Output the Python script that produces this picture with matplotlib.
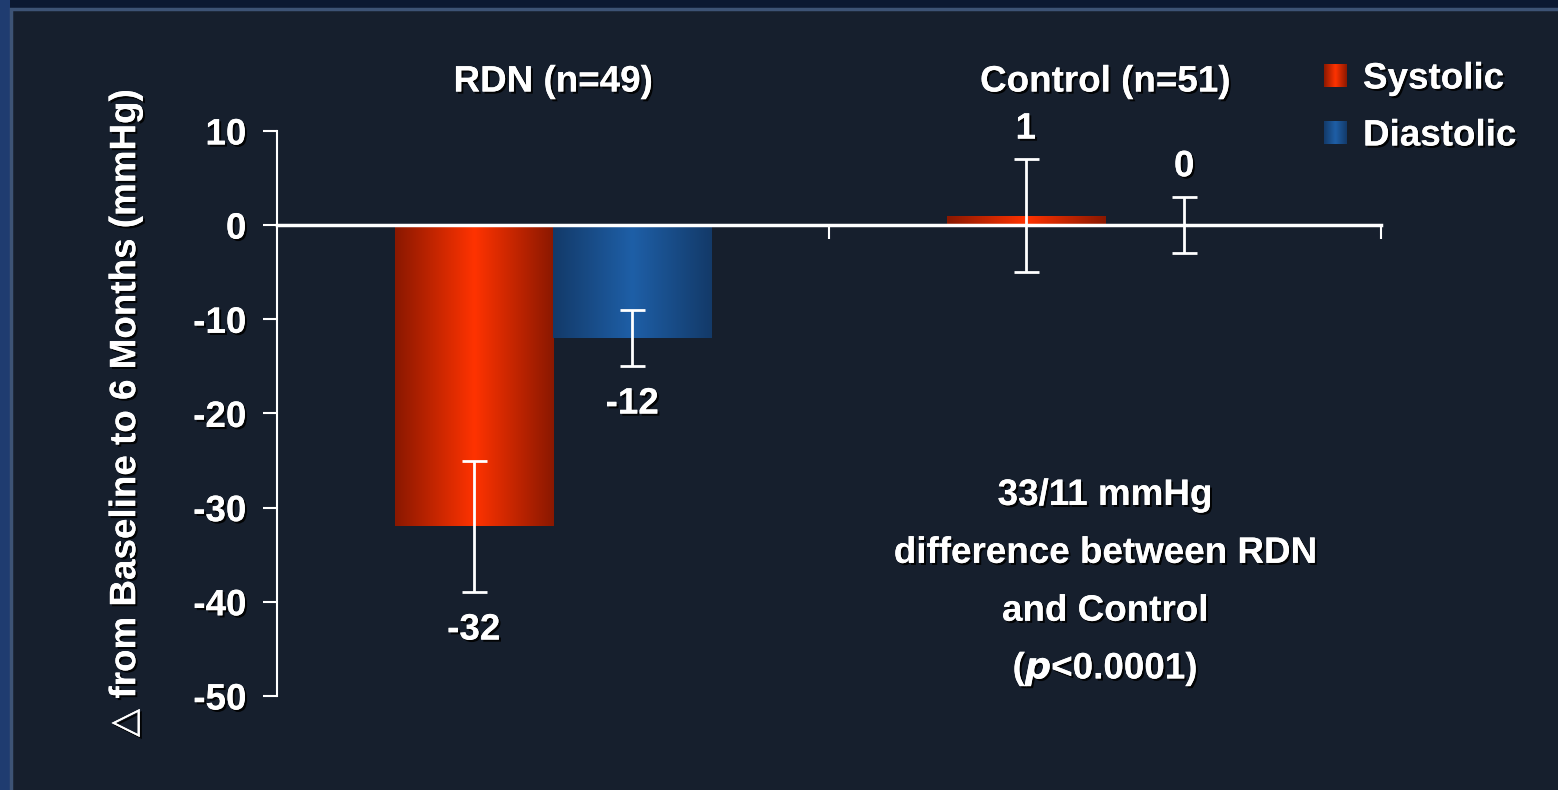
import numpy as np
import matplotlib.pyplot as plt
import matplotlib.patheffects as pe
from matplotlib.patches import Rectangle
from matplotlib.colors import LinearSegmentedColormap

plt.rcParams['font.family'] = ['Liberation Sans', 'DejaVu Sans']
plt.rcParams['font.weight'] = 'bold'
plt.rcParams['axes.unicode_minus'] = False

groups = ['RDN (n=49)', 'Control (n=51)']
series = ['Systolic', 'Diastolic']
systolic = [-32, 1]
diastolic = [-12, 0]
systolic_err = [7, 6]
diastolic_err = [3, 3]
systolic_lbl = ['-32', '1']
diastolic_lbl = ['-12', '0']
note = ['33/11 mmHg', 'difference between RDN', 'and Control', r'($\bf{\it{p}}$<0.0001)']

bg = '#161f2d'
fs = 26.5
shadow = [pe.withSimplePatchShadow(offset=(1.5, -1.5), shadow_rgbFace='black', alpha=0.9), pe.Normal()]

fig = plt.figure(figsize=(15.58, 7.90), dpi=100)
fig.patch.set_facecolor('#0c1932')
# slide frame
fig.patches.append(Rectangle((11 / 1558, -0.05), 1.1, (790 - 9) / 790 + 0.05, transform=fig.transFigure,
                             facecolor=bg, edgecolor='#3d5375', linewidth=2.5, zorder=-1))
fig.patches.append(Rectangle((0, -0.05), 10 / 1558, 1.1, transform=fig.transFigure,
                             facecolor='#1f3c70', edgecolor='none', zorder=-2))

ax = fig.add_axes([277 / 1558, 94 / 790, 1104 / 1558, 565 / 790])
ax.set_facecolor('none')
ax.set_xlim(0, 2)
ax.set_ylim(-50, 10)

def grad_cmap(edge, center):
    return LinearSegmentedColormap.from_list('g', [edge, center, edge])

red_cmap = grad_cmap('#8a1800', '#ff3300')
blue_cmap = grad_cmap('#133a69', '#1e5fa7')

x = np.arange(len(groups)) + 0.5
w = 0.287
bars_s = ax.bar(x - w / 2, systolic, w, facecolor='none', edgecolor='none')
bars_d = ax.bar(x + w / 2, diastolic, w, facecolor='none', edgecolor='none')
grad = np.linspace(0, 1, 256).reshape(1, -1)
for bars, cm in [(bars_s, red_cmap), (bars_d, blue_cmap)]:
    for b in bars:
        if b.get_height() == 0:
            continue
        x0, y0 = b.get_x(), b.get_y()
        x1, y1 = x0 + b.get_width(), y0 + b.get_height()
        im = ax.imshow(grad, cmap=cm, extent=[x0, x1, min(y0, y1), max(y0, y1)],
                       aspect='auto', interpolation='bicubic', zorder=1)
        im.set_clip_path(b)

ekw = dict(fmt='none', ecolor='white', elinewidth=2, capsize=9, capthick=2, zorder=3)
ax.errorbar(x - w / 2, systolic, yerr=systolic_err, **ekw)
ax.errorbar(x + w / 2, diastolic, yerr=diastolic_err, **ekw)

tkw = dict(ha='center', va='center', color='white', fontsize=fs, fontweight='bold',
           path_effects=shadow, clip_on=False)
for i in range(len(groups)):
    for xv, v, e, lbl in [(x[i] - w / 2, systolic[i], systolic_err[i], systolic_lbl[i]),
                          (x[i] + w / 2, diastolic[i], diastolic_err[i], diastolic_lbl[i])]:
        if v < 0:
            ax.text(xv, v - e - 4.0, lbl, **tkw)
        else:
            ax.text(xv, v + e + 3.2, lbl, **tkw)
    ax.text(x[i], 15.2, groups[i], **tkw)

for k, line in enumerate(note):
    ax.text(1.5, -28.7 - k * 6.15, line, **tkw)

# axes styling
for s in ['top', 'right']:
    ax.spines[s].set_visible(False)
ax.spines['left'].set_color('white')
ax.spines['left'].set_linewidth(1.5)
ax.spines['bottom'].set_position(('data', 0))
ax.spines['bottom'].set_color('white')
ax.spines['bottom'].set_linewidth(2.5)
ax.spines['bottom'].set_zorder(4)
ax.set_yticks(np.arange(-50, 11, 10))
ax.set_xticks([1, 2])
ax.set_xticklabels([])
ax.tick_params(axis='y', colors='white', length=10, width=1.5, labelsize=fs, pad=12)
ax.tick_params(axis='x', colors='white', length=10, width=1.5)
for t in ax.get_yticklabels():
    t.set_fontweight('bold')
    t.set_path_effects(shadow)
ax.set_ylabel('△ from Baseline to 6 Months (mmHg)', color='white', fontsize=fs,
              fontweight='bold', labelpad=36, path_effects=shadow)

# legend
for j, (name, cm, ytop) in enumerate([(series[0], red_cmap, 64), (series[1], blue_cmap, 121)]):
    lax = fig.add_axes([1324 / 1558, (790 - ytop - 23) / 790, 23 / 1558, 23 / 790])
    lax.imshow(grad, cmap=cm, aspect='auto', interpolation='bicubic')
    lax.axis('off')
    fig.text(1363 / 1558, (790 - ytop - 15) / 790, name, color='white', fontsize=fs,
             fontweight='bold', va='center', ha='left', path_effects=shadow)

fig.savefig('out.png', dpi=100, facecolor=fig.get_facecolor())
